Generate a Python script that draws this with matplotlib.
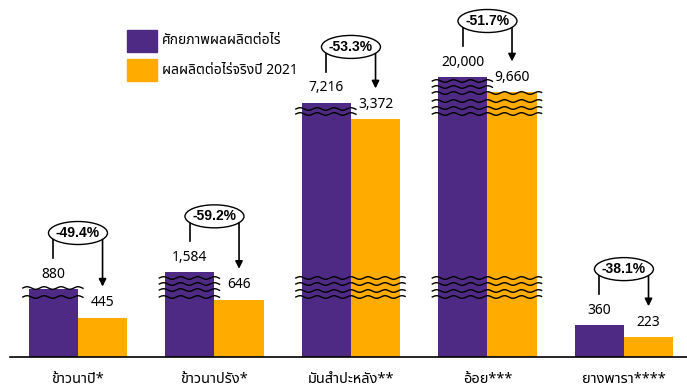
import numpy as np
import matplotlib
matplotlib.use("Agg")
import matplotlib.pyplot as plt
from matplotlib.patches import Ellipse, Rectangle
from matplotlib.transforms import IdentityTransform

crops = ["ข้าวนาปี*", "ข้าวนาปรัง*", "มันสำปะหลัง**", "อ้อย***", "ยางพารา****"]
potential = [880, 1584, 7216, 20000, 360]
actual = [445, 646, 3372, 9660, 223]
legend_labels = ["ศักยภาพผลผลิตต่อไร่", "ผลผลิตต่อไร่จริงปี 2021"]

PURPLE = "#4F2A84"
ORANGE = "#FFAB00"
plt.rcParams['font.family'] = ["Noto Sans Thai", "Open Sans", "DejaVu Sans"]

# broken y axis: piecewise scale, value -> height in pixels
knot_v = [0, 700, 1000, 1600, 3000, 10000, 20000, 75000]
knot_h = [0, 62, 72, 85, 236, 266, 280, 357]

def fwd(v):
    return np.interp(v, knot_v, knot_h)

def inv(h):
    return np.interp(h, knot_h, knot_v)

# wavy break marks per group: (height above baseline in px, 'p' = purple bar only, 'b' = both bars)
breaks = [
    [(69, 'p'), (60, 'p')],
    [(79, 'p'), (73, 'p'), (67, 'p'), (60, 'p')],
    [(79, 'b'), (73, 'b'), (66, 'b'), (60, 'b'), (248, 'p'), (243, 'p')],
    [(79, 'b'), (73, 'b'), (66, 'b'), (60, 'b'), (276, 'p'), (270, 'p'),
     (264, 'b'), (256, 'b'), (249, 'b'), (243, 'b')],
    [],
]

fig = plt.figure(figsize=(6.87, 3.88), dpi=100)
ax = fig.add_axes([10 / 687, 31 / 388, 677 / 687, 357 / 388])

x = np.arange(len(crops))
w = 0.36
ax.bar(x, potential, -w, align='edge', color=PURPLE)
ax.bar(x, actual, w, align='edge', color=ORANGE)

ax.set_yscale('function', functions=(fwd, inv))
ax.set_ylim(0, 75000)
ax.set_xlim(-0.498, 4.462)
ax.set_yticks([])
ax.set_xticks(x, crops, fontsize=10.5)
ax.tick_params(axis='x', length=0, pad=11)
for s in ['top', 'left', 'right']:
    ax.spines[s].set_visible(False)
ax.spines['bottom'].set_linewidth(1.2)
ax.spines['bottom'].set_color('black')

ident = IdentityTransform()
base = ax.transData.transform((0, 0))[1]
ea, eb = 29.5, 11.5

for i in range(len(crops)):
    gx = ax.transData.transform((x[i], 0))[0]
    pl = ax.transData.transform((x[i] - w, 0))[0]
    pcx, ptop = ax.transData.transform((x[i] - w / 2, potential[i]))
    acx, atop = ax.transData.transform((x[i] + w / 2, actual[i]))
    ar = ax.transData.transform((x[i] + w, 0))[0]

    ax.text(pcx, ptop + 15, f"{potential[i]:,}", transform=ident,
            ha='center', va='center', fontsize=10)
    ax.text(acx, atop + 15, f"{actual[i]:,}", transform=ident,
            ha='center', va='center', fontsize=10)

    # change bubble
    ecy = ptop + 56
    ax.add_artist(Ellipse((gx, ecy), 2 * ea, 2 * eb, transform=ident,
                          fc='white', ec='black', lw=1, zorder=5))
    pct = (actual[i] - potential[i]) / potential[i] * 100
    ax.text(gx, ecy, f"{pct:.1f}%", transform=ident, ha='center', va='center',
            fontsize=10, fontweight='bold', family="Liberation Sans", zorder=6)
    ly = ecy - eb * np.sqrt(1 - ((pcx - gx) / ea) ** 2)
    ax.plot([pcx, pcx], [ly, ptop + 31], transform=ident, color='black', lw=1.2)
    ry = ecy - eb * np.sqrt(1 - ((acx - gx) / ea) ** 2)
    ax.annotate("", xy=(acx, atop + 31), xytext=(acx, ry), xycoords=ident,
                arrowprops=dict(arrowstyle='-|>', color='black', lw=1.2,
                                mutation_scale=11, shrinkA=0, shrinkB=0))

    for h, span in breaks[i]:
        x0 = pl - 6
        x1 = (pl + (ar - pl) / 2 if span == 'p' else ar) + 5
        xs = np.linspace(x0, x1, 200)
        ys = base + h + 1.3 * np.sin(2 * np.pi * (xs - x0) / 17)
        ax.plot(xs, ys, transform=ident, color='black', lw=1.0, zorder=4)

# legend
for j, (lab, col) in enumerate(zip(legend_labels, [PURPLE, ORANGE])):
    yc = 388 - (41 + 29 * j)
    fig.add_artist(Rectangle((127, yc - 11), 30, 22, transform=ident, color=col))
    fig.text(162, yc, lab, transform=ident, ha='left', va='center', fontsize=10)

fig.savefig("out.png", dpi=100)
